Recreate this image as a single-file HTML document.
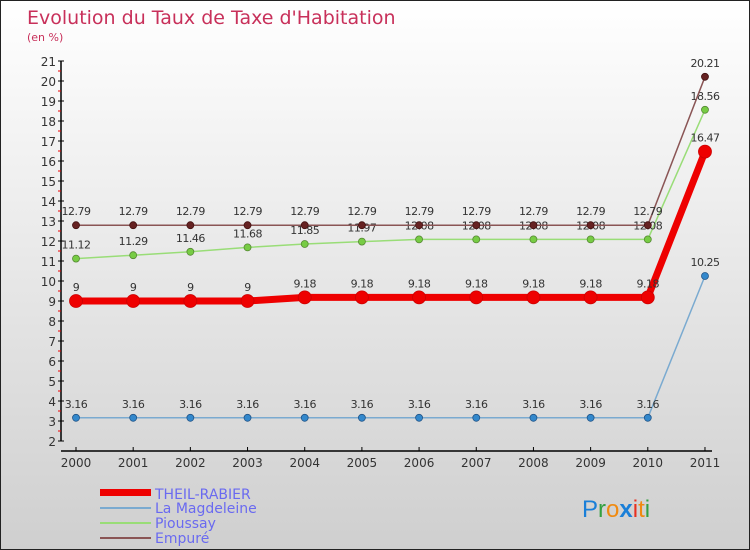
<!DOCTYPE html>
<html><head><meta charset="utf-8"><style>
body{margin:0}
#c{width:750px;height:550px;position:relative;box-sizing:border-box;border:1px solid #222;background:linear-gradient(#ffffff,#cfcfcf);font-family:"DejaVu Sans","Liberation Sans",sans-serif;overflow:hidden}
</style></head><body>
<div id="c">
<svg id="s" width="750" height="550" style="position:absolute;left:-1px;top:-1px">
<text x="27" y="24" font-size="19" fill="#c8305a">Evolution du Taux de Taxe d'Habitation</text>
<text x="27" y="41" font-size="11" fill="#c8305a">(en %)</text>
<g id="axes"></g><g id="series"></g>
<g>
<rect x="100" y="489" width="51" height="7" fill="#ee0000"/>
<text x="155" y="499" font-size="14" fill="#6a6af0">THEIL-RABIER</text>
<rect x="100" y="507" width="51" height="2" fill="#7aaad0"/>
<text x="155" y="513" font-size="14" fill="#6a6af0">La Magdeleine</text>
<rect x="100" y="522" width="51" height="2" fill="#99dd77"/>
<text x="155" y="528" font-size="14" fill="#6a6af0">Pioussay</text>
<rect x="100" y="537" width="51" height="2" fill="#8a5555"/>
<text x="155" y="543" font-size="14" fill="#6a6af0">Empuré</text>
</g>
<text x="582" y="517" font-size="24" font-family="Liberation Sans"><tspan fill="#1a7fd8">P</tspan><tspan fill="#33a040">r</tspan><tspan fill="#f08a10">o</tspan><tspan fill="#1a7fd8" font-weight="bold">x</tspan><tspan fill="#e83020">i</tspan><tspan fill="#f08a10">t</tspan><tspan fill="#33a040">i</tspan></text>
</svg>
</div>
<script>
const years=["2000","2001","2002","2003","2004","2005","2006","2007","2008","2009","2010","2011"];
const yTicks=[2,3,4,5,6,7,8,9,10,11,12,13,14,15,16,17,18,19,20,21];
const theil=[9,9,9,9,9.18,9.18,9.18,9.18,9.18,9.18,9.18,16.47];
const magdeleine=[3.16,3.16,3.16,3.16,3.16,3.16,3.16,3.16,3.16,3.16,3.16,10.25];
const pioussay=[11.12,11.29,11.46,11.68,11.85,11.97,12.08,12.08,12.08,12.08,12.08,18.56];
const empure=[12.79,12.79,12.79,12.79,12.79,12.79,12.79,12.79,12.79,12.79,12.79,20.21];
const NS="http://www.w3.org/2000/svg";
const X=i=>76+i*57.18, Y=v=>441-(v-2)*20;
function mk(t,a,p){const e=document.createElementNS(NS,t);for(const k in a)e.setAttribute(k,a[k]);p.appendChild(e);return e;}
const ax=document.getElementById('axes');
const yl=mk('line',{x1:61,y1:Y(21),x2:61,y2:Y(2),stroke:'#000','stroke-width':1.5},ax);


yTicks.forEach(v=>{
 mk('line',{x1:58,x2:64,y1:Y(v),y2:Y(v),stroke:'#000'},ax);
 if(v<21)mk('line',{x1:58,x2:61,y1:Y(v+0.5),y2:Y(v+0.5),stroke:'#e00'},ax);
 const t=mk('text',{x:56,y:Y(v)+5,'font-size':12,fill:'#333','text-anchor':'end'},ax);t.textContent=v;
 
 
});
const xl=mk('line',{x1:61,y1:451,x2:712,y2:451,stroke:'#000','stroke-width':1.5},ax);


years.forEach((y,i)=>{
 mk('line',{x1:X(i),x2:X(i),y1:447,y2:451,stroke:'#000'},ax);
 const t=mk('text',{x:X(i),y:467,'font-size':12,fill:'#333','text-anchor':'middle'},ax);t.textContent=y;
 
 
});
const sg=document.getElementById('series');
function draw(d,name,col,lw,r,dot,stroke){
 const g=mk('g',{},sg);
 
 
 const p=mk('polyline',{points:d.map((v,i)=>X(i)+','+Y(v)).join(' '),fill:'none',stroke:col,'stroke-width':lw,'stroke-linejoin':'round'},g);
 
 
 d.forEach((v,i)=>{
  const c=mk('circle',{cx:X(i),cy:Y(v),r:r,fill:dot,stroke:stroke,'stroke-width':0.8},g);
  
  
  const t=mk('text',{x:X(i),y:Y(v)-10,'font-size':11,fill:'#333','text-anchor':'middle','letter-spacing':'-0.5'},g);
  t.textContent=String(v);
  
  
 });
}
draw(magdeleine,'la-magdeleine','#7aaad0',1.5,3.5,'#3388cc','#225588');
draw(pioussay,'pioussay','#99dd77',1.5,3.5,'#77cc44','#558833');
draw(empure,'empure','#8a5555',1.5,3.5,'#662222','#441111');
draw(theil,'theil-rabier','#ee0000',7,6.5,'#ee0000','#cc0000');
</script>
</body></html>
